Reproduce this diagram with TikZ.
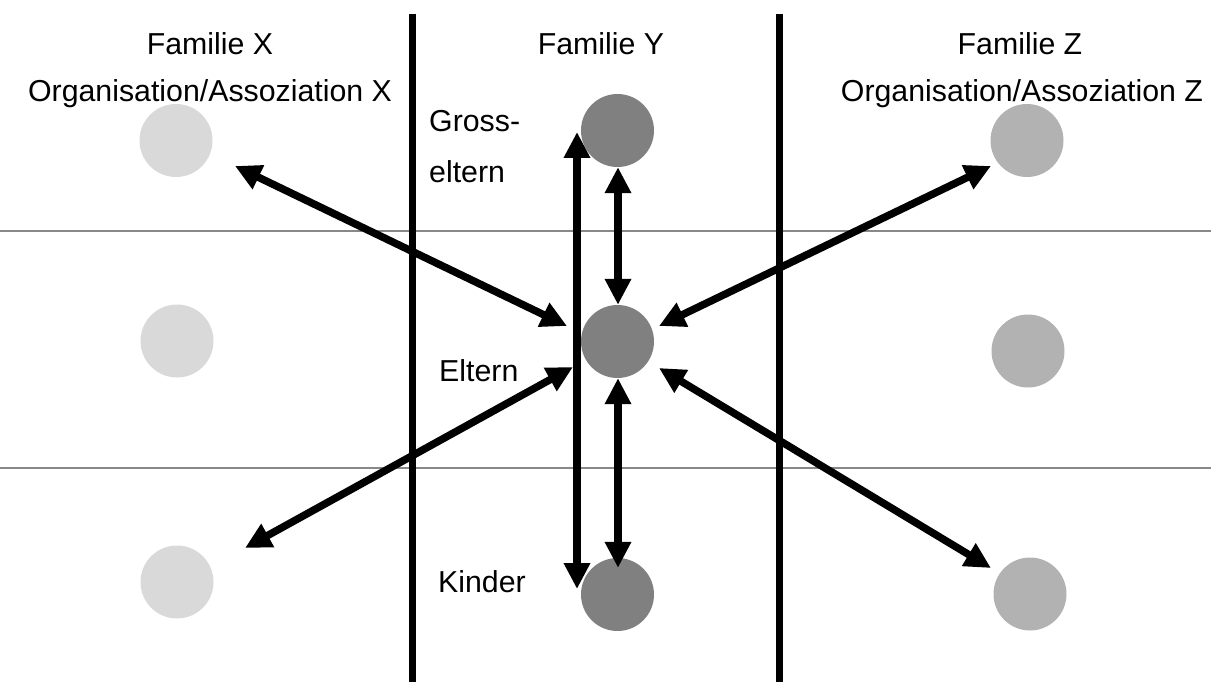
\documentclass[tikz,border=0pt]{standalone}
\usepackage{fontspec}
\setmainfont{Liberation Sans}
\usetikzlibrary{arrows.meta}
\begin{document}
\begin{tikzpicture}[x=1pt,y=-1pt,
  lbl/.style={inner sep=0pt,font=\fontsize{30.3}{35}\selectfont},
  person/.style={circle,inner sep=0pt,minimum size=73pt},
  famx/.style={person,fill={rgb,255:red,217;green,217;blue,217}},
  famy/.style={person,fill={rgb,255:red,128;green,128;blue,128}},
  famz/.style={person,fill={rgb,255:red,178;green,178;blue,178}},
  divider/.style={line width=7pt},
  level/.style={line width=1.4pt,draw={rgb,255:red,136;green,136;blue,136}},
  link/.style={line width=7.5pt,{Triangle[length=26pt,width=25pt]}-{Triangle[length=26pt,width=25pt]}}
]
\useasboundingbox (0,0) rectangle (1211,682);

% generation levels
\draw[level] (0,231) -- (1211,231);
\draw[level] (0,468) -- (1211,468);

% family boundaries
\draw[divider] (412,14) -- (412,682);
\draw[divider] (779,14) -- (779,682);

% headings
\node[lbl,anchor=base] (hx) at (210,54.5) {Familie X};
\node[lbl,anchor=base] (ox) at (210,101.5) {Organisation/Assoziation X};
\node[lbl,anchor=base] (hy) at (601,54.5) {Familie Y};
\node[lbl,anchor=base] (hz) at (1020,54.5) {Familie Z};
\node[lbl,anchor=base] (oz) at (1022,101.5) {Organisation/Assoziation Z};

% generation names
\node[lbl,anchor=base west] (g1) at (429,131.5) {Gross-};
\node[lbl,anchor=base west] (g2) at (429,182.5) {eltern};
\node[lbl,anchor=base west] (el) at (439,381.5) {Eltern};
\node[lbl,anchor=base west] (ki) at (438,592.5) {Kinder};

% members
\node[famx] (x1) at (176,140.5) {};
\node[famx] (x2) at (177,341) {};
\node[famx] (x3) at (177,582) {};
\node[famy] (y1) at (617.5,130.5) {};
\node[famy] (y2) at (617.5,341.5) {};
\node[famy] (y3) at (617.5,594.5) {};
\node[famz] (z1) at (1027,140.5) {};
\node[famz] (z2) at (1028,351) {};
\node[famz] (z3) at (1030,594) {};

% arrow end points
\coordinate (vt) at (577,132);
\coordinate (vb) at (577,589);
\coordinate (ax) at (235,166);
\coordinate (ay) at (567,326);
\coordinate (bx) at (245,548);
\coordinate (by) at (573,367);
\coordinate (cz) at (991,166);
\coordinate (cy) at (659,326);
\coordinate (dz) at (991,568);
\coordinate (dy) at (659,368);

% relations
\draw[link] (vt) -- (vb);
\draw[link] (y1.south -| 618,0) -- (y2.north -| 618,0);
\draw[link] (y2.south -| 618,0) -- ([yshift=-10pt]y3.north -| 618,0);
\draw[link] (ax) -- (ay);
\draw[link] (bx) -- (by);
\draw[link] (cz) -- (cy);
\draw[link] (dz) -- (dy);
\end{tikzpicture}
\end{document}
